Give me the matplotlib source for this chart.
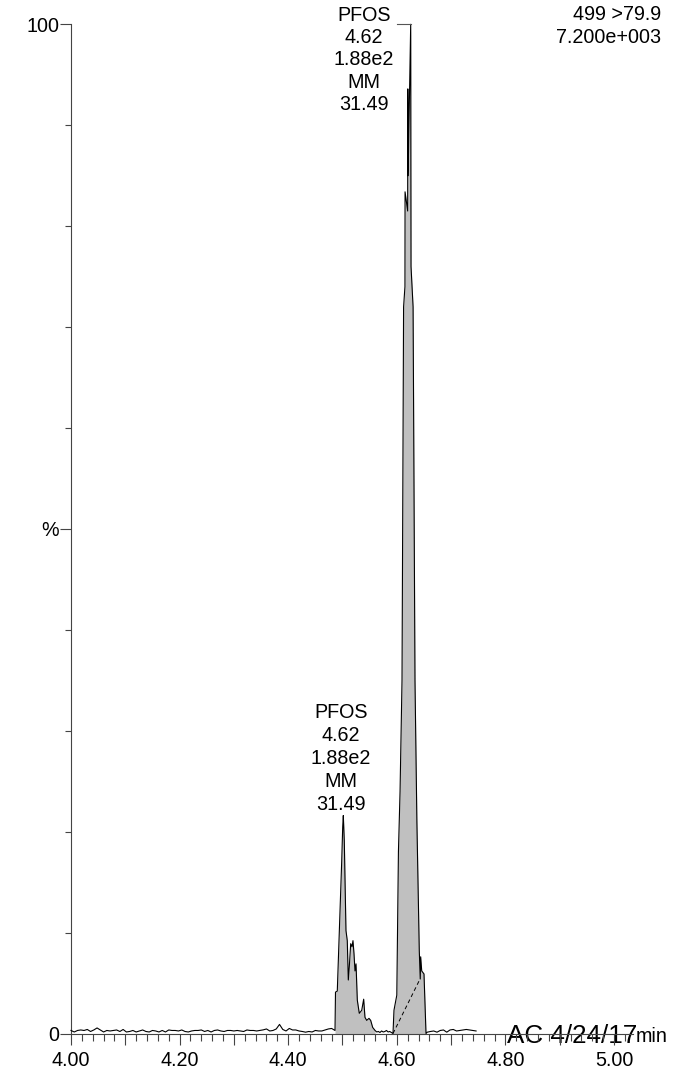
import numpy as np
import matplotlib
matplotlib.use('Agg')
import matplotlib.pyplot as plt
from matplotlib.ticker import MultipleLocator, FuncFormatter, FixedLocator

plt.rcParams['font.family'] = ['Liberation Sans', 'DejaVu Sans']

# ---------------- data ----------------
SAMPLE = 0.006  # min between baseline samples

# baseline noise before the peaks (4.000 -> 4.480 min), % intensity
pre_start = 4.000
pre_noise = [0.30, 0.15, 0.30, 0.35, 0.30, 0.40, 0.20, 0.35, 0.55, 0.35,
             0.15, 0.30, 0.25, 0.30, 0.35, 0.20, 0.40, 0.15, 0.20, 0.30,
             0.15, 0.25, 0.35, 0.20, 0.15, 0.30, 0.25, 0.15, 0.30, 0.15,
             0.35, 0.30, 0.30, 0.25, 0.35, 0.20, 0.15, 0.25, 0.30, 0.30,
             0.35, 0.20, 0.30, 0.15, 0.30, 0.35, 0.25, 0.20, 0.30, 0.30,
             0.25,
             0.30, 0.25, 0.20, 0.35, 0.30, 0.30, 0.25, 0.30, 0.36, 0.45,
             0.25, 0.30, 0.45, 0.90, 0.40, 0.25, 0.50, 0.35, 0.35, 0.25,
             0.20, 0.13, 0.20, 0.15, 0.30, 0.25, 0.25, 0.35, 0.45, 0.50]

# first (smaller) peak
small_t = [4.4862, 4.4871, 4.4904, 4.4935, 4.4985, 4.5004, 4.5015, 4.5033,
           4.5064, 4.5088, 4.5107, 4.5125, 4.5151, 4.5175, 4.5193, 4.5212,
           4.5230, 4.5249, 4.5273, 4.5309, 4.5354, 4.5390, 4.5414, 4.5446,
           4.5488, 4.5519, 4.5556, 4.5600]
small_y = [0.3, 4.1, 4.2, 9.0, 17.0, 20.5, 21.6, 19.1,
           10.2, 9.2, 5.3, 6.6, 8.9, 8.6, 9.2, 7.9,
           6.2, 6.9, 3.3, 2.0, 2.3, 3.4, 1.6, 1.3,
           1.5, 1.3, 0.6, 0.3]

# flat gap between peaks
gap_t = [4.563, 4.566, 4.569, 4.572, 4.575, 4.578, 4.581, 4.584, 4.587, 4.590]
gap_y = [0.15, 0.20, 0.10, 0.25, 0.15, 0.20, 0.30, 0.15, 0.20, 0.10]

# main PFOS peak
main_t = [4.5930, 4.5948, 4.5972, 4.6000, 4.6030, 4.6060, 4.6096, 4.6125,
          4.6150, 4.6152, 4.6200, 4.6203, 4.6208, 4.6256, 4.6262, 4.6300,
          4.6335, 4.6370, 4.6414, 4.6432, 4.6440, 4.6459, 4.6501, 4.6538]
main_y = [0.0, 2.3, 3.0, 3.8, 18.0, 24.0, 35.0, 72.0,
          74.0, 83.4, 81.5, 93.6, 85.0, 100.0, 76.0, 72.0,
          35.0, 21.0, 8.2, 5.4, 7.6, 6.2, 5.9, 0.0]

# baseline noise after the peaks
post_start = 4.656
post_noise = [0.13, 0.20, 0.25, 0.13, 0.30, 0.35, 0.13, 0.35, 0.40, 0.25,
              0.30, 0.35, 0.40, 0.35, 0.30, 0.25]

# integration baseline (dashed) of main peak
base_t = [4.593, 4.6414]
base_y = [0.0, 5.25]

peak_label = ["PFOS", "4.62", "1.88e2", "MM", "31.49"]
channel_label = ["499 >79.9", "7.200e+003"]
x_tick_labels = {4.0: "4.00", 4.2: "4.20", 4.4: "4.40", 4.6: "4.60", 4.8: "4.80", 5.0: "5.00"}
y_tick_labels = {0: "0", 50: "%", 100: "100"}

# ---------------- figure ----------------
W, H = 681, 1070
fig = plt.figure(figsize=(W / 100, H / 100), dpi=100)
ax = fig.add_axes([71 / W, 1 - 1033.5 / H, (633 - 71) / W, (1033.5 - 24.3) / H])
ax.patch.set_visible(False)

pre_t = pre_start + SAMPLE * np.arange(len(pre_noise))
post_t = post_start + SAMPLE * np.arange(len(post_noise))
all_t = np.concatenate([pre_t, small_t, gap_t, main_t, post_t])
all_y = np.concatenate([pre_noise, small_y, gap_y, main_y, post_noise])

fill_col = '#c0c0c0'
ax.fill_between(small_t, small_y, 0, color=fill_col, lw=0, zorder=1)
ax.fill_between(main_t, main_y, 0, color=fill_col, lw=0, zorder=1)
ax.plot(all_t, all_y, color='black', lw=0.8, zorder=3, clip_on=False)
ax.plot(base_t, base_y, color='black', lw=0.7, ls=(0, (4, 3)), zorder=3)

# leader line from top label to apex
apex_i = int(np.argmax(main_y))
ax.plot([4.6005, main_t[apex_i]], [main_y[apex_i], main_y[apex_i]],
        color='#555555', lw=0.8, clip_on=False, zorder=3)

ax.set_xlim(4.0, 5.035)
ax.set_ylim(0, 100)

for s in ['top', 'right']:
    ax.spines[s].set_visible(False)
for s in ['left', 'bottom']:
    ax.spines[s].set_color('#444444')
    ax.spines[s].set_linewidth(0.8)

ax.xaxis.set_major_locator(FixedLocator([4.0, 4.1, 4.2, 4.3, 4.4, 4.5, 4.6, 4.7, 4.8, 4.9, 5.0]))
ax.xaxis.set_minor_locator(MultipleLocator(0.02))
ax.xaxis.set_major_formatter(FuncFormatter(lambda v, p: x_tick_labels.get(round(v, 2), "")))
ax.yaxis.set_major_locator(FixedLocator([0, 50, 100]))
ax.yaxis.set_minor_locator(MultipleLocator(10))
ax.yaxis.set_major_formatter(FuncFormatter(lambda v, p: y_tick_labels.get(int(round(v)), "")))

ax.tick_params(axis='both', which='both', color='#444444', width=0.8, direction='out')
ax.tick_params(axis='x', which='major', length=7.9, pad=4.6, labelsize=14.2)
ax.tick_params(axis='x', which='minor', length=4.8)
ax.tick_params(axis='y', which='major', length=7.9, pad=0.5, labelsize=14.2)
ax.tick_params(axis='y', which='minor', length=4.1)


def ptext(px, py, s, **kw):
    fig.text(px / W, 1 - py / H, s, **kw)


# top peak label
for i, line in enumerate(peak_label):
    ptext(364, 20.7 + 22.3 * i, line, ha='center', va='baseline', fontsize=14.2)
# small peak label
for i, line in enumerate(peak_label):
    ptext(341, 718 + 23 * i, line, ha='center', va='baseline', fontsize=14.2)
# channel info
for i, line in enumerate(channel_label):
    ptext(661, 20.3 + 22.4 * i, line, ha='right', va='baseline', fontsize=14.2)

ptext(507, 1043, "AC 4/24/17", ha='left', va='baseline', fontsize=18.7, zorder=-1)
ptext(636, 1042, "min", ha='left', va='baseline', fontsize=14.2)

fig.savefig('out.png', dpi=100)
